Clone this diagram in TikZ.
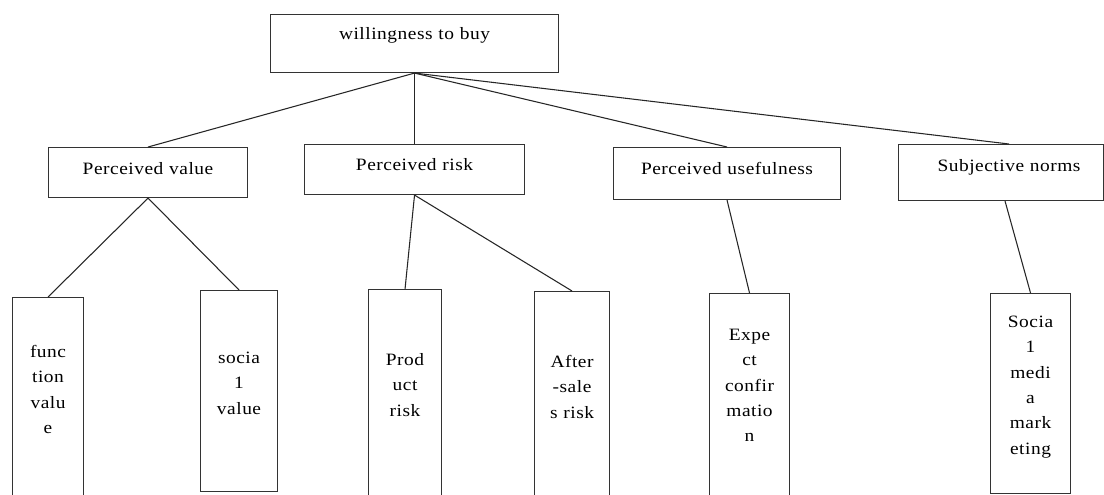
\documentclass[tikz,border=0pt]{standalone}
\usepackage{fontspec}
\setmainfont{Liberation Serif}[FakeStretch=1.12,LetterSpace=3]
\begin{document}
\begin{tikzpicture}[x=0.75pt,y=-0.75pt,
  box/.style={draw=black!80,line width=0.8pt,inner sep=0pt,align=center,anchor=north west,
    font=\fontsize{13}{19}\selectfont,text=black},
  link/.style={draw=black!85,line width=0.8pt}]
\useasboundingbox (0,0) rectangle (1104,494);
% level 1
\node[box,text width=216pt,text height=18.75pt,text depth=24.75pt] (top) at (270,14) {willingness to buy};
% level 2
\node[box,text width=149.25pt,text height=20.25pt,text depth=17.25pt] (pv) at (48,147) {Perceived value};
\node[box,text width=165pt,text height=19.5pt,text depth=18pt] (pr) at (304,144) {Perceived risk};
\node[box,text width=170.25pt,text height=20.25pt,text depth=18.75pt] (pu) at (613,147) {Perceived usefulness};
\node[box,text width=153.75pt,text height=20.25pt,text depth=21.75pt] (sn) at (898,144) {\hspace*{12pt}Subjective norms};
% level 3
\node[box,text width=53.25pt,text height=45pt,text depth=111pt] (fv) at (12,297) {func\\tion\\valu\\e};
\node[box,text width=57.75pt,text height=54.75pt,text depth=96pt] (sv) at (200,290) {socia\\1\\value};
\node[box,text width=54.75pt,text height=57pt,text depth=105pt] (prr) at (368,289) {Prod\\uct\\risk};
\node[box,text width=56.25pt,text height=57pt,text depth=103.5pt] (asr) at (534,291) {After\\-sale\\s risk};
\node[box,text width=60pt,text height=35.25pt,text depth=123.75pt] (ec) at (709,293) {Expe\\ct\\confir\\matio\\n};
\node[box,text width=60pt,text height=25.5pt,text depth=124.5pt] (smm) at (990,293) {Socia\\1\\medi\\a\\mark\\eting};
% connectors
\draw[link] (top.south) -- (pv.north);
\draw[link] (top.south) -- (pr.north);
\draw[link] (top.south) -- (pu.north);
\draw[link] (top.south) -- ([xshift=6pt]sn.north);
\draw[link] (pv.south) -- (fv.north);
\draw[link] (pv.south) -- (sv.north);
\draw[link] (pr.south) -- (prr.north);
\draw[link] (pr.south) -- (asr.north);
\draw[link] (pu.south) -- (ec.north);
\draw[link] ([xshift=3pt]sn.south) -- (smm.north);
\end{tikzpicture}
\end{document}
